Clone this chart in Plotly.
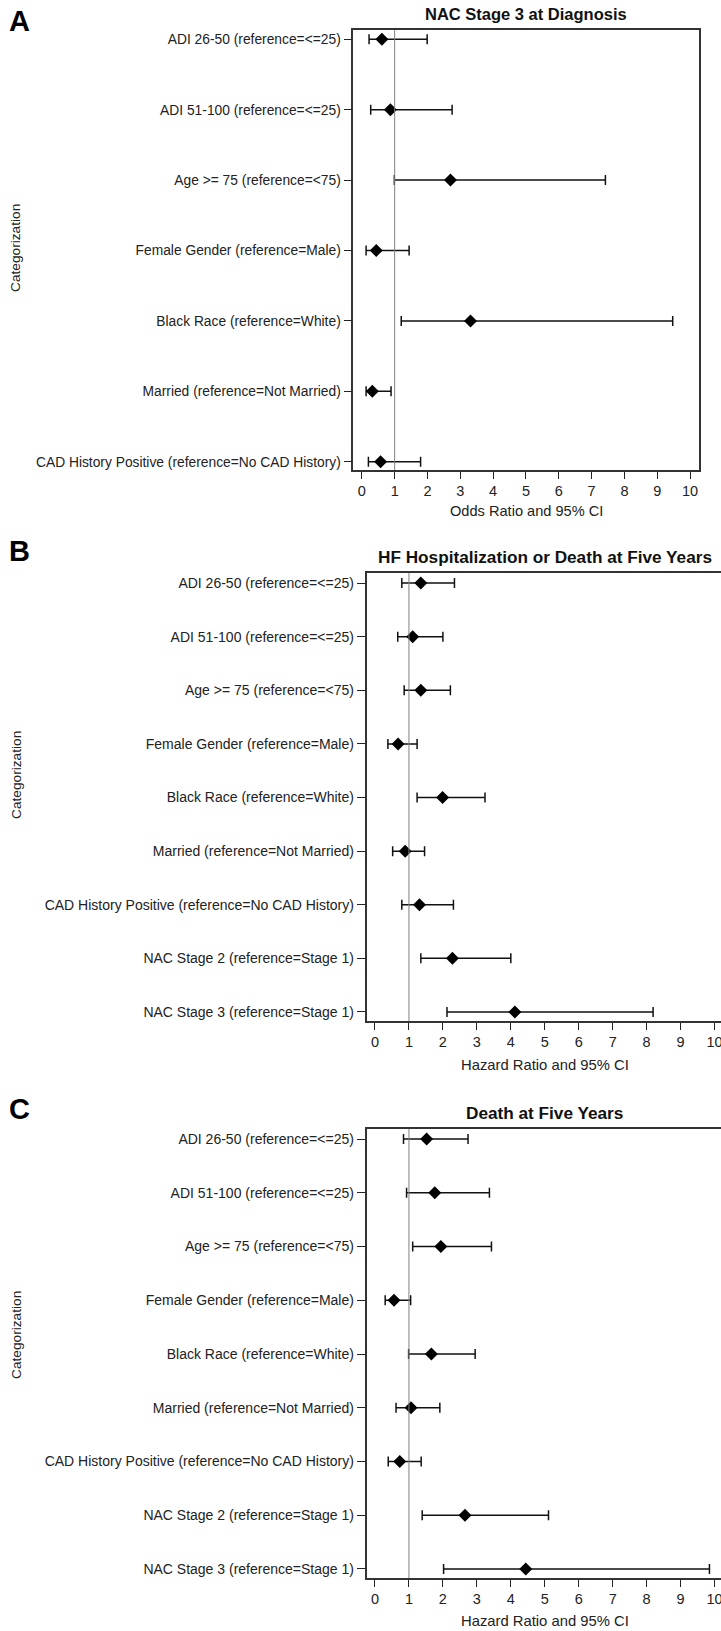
import plotly.graph_objects as go

W, H = 721, 1631

labels_a = [
    "ADI 26-50 (reference=&lt;=25)",
    "ADI 51-100 (reference=&lt;=25)",
    "Age &gt;= 75 (reference=&lt;75)",
    "Female Gender (reference=Male)",
    "Black Race (reference=White)",
    "Married (reference=Not Married)",
    "CAD History Positive (reference=No CAD History)",
]
labels_bc = labels_a + [
    "NAC Stage 2 (reference=Stage 1)",
    "NAC Stage 3 (reference=Stage 1)",
]

# Panel A: NAC Stage 3 at Diagnosis (odds ratios)
a_est = [0.61, 0.87, 2.70, 0.44, 3.31, 0.32, 0.57]
a_lo = [0.22, 0.27, 0.99, 0.13, 1.20, 0.13, 0.20]
a_hi = [1.99, 2.75, 7.42, 1.44, 9.47, 0.89, 1.79]

# Panel B: HF Hospitalization or Death at Five Years (hazard ratios)
b_est = [1.35, 1.11, 1.35, 0.68, 1.99, 0.89, 1.31, 2.28, 4.12]
b_lo = [0.79, 0.67, 0.86, 0.38, 1.24, 0.52, 0.79, 1.35, 2.12]
b_hi = [2.34, 2.00, 2.22, 1.24, 3.24, 1.46, 2.31, 4.00, 8.19]

# Panel C: Death at Five Years (hazard ratios)
c_est = [1.52, 1.76, 1.94, 0.56, 1.66, 1.06, 0.73, 2.65, 4.44]
c_lo = [0.84, 0.93, 1.11, 0.30, 0.99, 0.62, 0.39, 1.39, 2.02]
c_hi = [2.74, 3.37, 3.43, 1.05, 2.95, 1.91, 1.36, 5.11, 9.85]

x_ticks = list(range(0, 11))

FONT = "Liberation Sans, Arial, sans-serif"

def px_x(p):
    return p / W

def px_y(p):
    return 1 - p / H

panels = [
    dict(key="", est=a_est, lo=a_lo, hi=a_hi, labels=labels_a,
         title="NAC Stage 3 at Diagnosis", xlabel="Odds Ratio and 95% CI",
         box=(353.3, 699.3, 30, 470), xr=[-0.26, 10.28], pad=(0.132, 0.118),
         lab_size=13.8, tick_size=14.5, xl_size=14.6, title_size=16.5,
         title_y=14, xl_y=511, yl_y=248, letter="A", letter_y=21, mirror_y=True),
    dict(key="2", est=b_est, lo=b_lo, hi=b_hi, labels=labels_bc,
         title="HF Hospitalization or Death at Five Years", xlabel="Hazard Ratio and 95% CI",
         box=(366.5, 721, 573, 1021), xr=[-0.25, 10.19], pad=(0.187, 0.168),
         lab_size=14, tick_size=14.5, xl_size=14.8, title_size=17.2,
         title_y=557, xl_y=1065, yl_y=775, letter="B", letter_y=551, mirror_y=False),
    dict(key="3", est=c_est, lo=c_lo, hi=c_hi, labels=labels_bc,
         title="Death at Five Years", xlabel="Hazard Ratio and 95% CI",
         box=(366.5, 721, 1129, 1578), xr=[-0.25, 10.19], pad=(0.187, 0.168),
         lab_size=14, tick_size=14.5, xl_size=14.8, title_size=17.2,
         title_y=1113, xl_y=1621, yl_y=1335, letter="C", letter_y=1109, mirror_y=False),
]

fig = go.Figure()
annotations = []
shapes = []

for p in panels:
    k = p["key"]
    n = len(p["labels"])
    idx = list(range(n))
    err_plus = [h - e for h, e in zip(p["hi"], p["est"])]
    err_minus = [e - l for e, l in zip(p["est"], p["lo"])]
    fig.add_trace(go.Scatter(
        x=p["est"], y=idx, mode="markers",
        xaxis="x" + k, yaxis="y" + k,
        marker=dict(symbol="diamond", size=10, color="black"),
        error_x=dict(type="data", symmetric=False, array=err_plus, arrayminus=err_minus,
                     color="#111111", thickness=1.5, width=5),
        showlegend=False, hoverinfo="skip",
    ))
    x0, x1, y0, y1 = p["box"]
    xa = dict(
        domain=[px_x(x0), min(1.0, px_x(x1))], range=p["xr"],
        tickmode="array", tickvals=x_ticks, ticktext=[str(t) for t in x_ticks],
        ticks="outside", ticklen=7, tickwidth=1.2, tickcolor="#222",
        showline=True, linecolor="#333", linewidth=1.6, mirror=True,
        showgrid=False, zeroline=False, automargin=False,
        ticklabeloverflow="allow",
        tickfont=dict(family=FONT, size=p["tick_size"], color="#222"),
        anchor="y" + k,
    )
    ya = dict(
        domain=[px_y(y1), px_y(y0)],
        range=[n - 1 + p["pad"][1], -p["pad"][0]],
        tickmode="array", tickvals=idx, ticktext=p["labels"],
        ticks="outside", ticklen=8, tickwidth=1.2, tickcolor="#222",
        showline=True, linecolor="#333", linewidth=1.6, mirror=p["mirror_y"],
        showgrid=False, zeroline=False, automargin=False,
        tickfont=dict(family=FONT, size=p["lab_size"], color="#222"),
        anchor="x" + k,
    )
    fig.update_layout(**{"xaxis" + k: xa, "yaxis" + k: ya})
    shapes.append(dict(type="line", xref="x" + k, yref="y" + k + " domain",
                       x0=1, x1=1, y0=0, y1=1, line=dict(color="#808080", width=1)))
    cx = (x0 + x1) / 2
    if x1 >= 721:
        cx = (x0 + 722.5) / 2
    annotations.append(dict(text="<b>" + p["title"] + "</b>", xref="paper", yref="paper",
                            x=px_x(cx), y=px_y(p["title_y"]), xanchor="center", yanchor="middle",
                            showarrow=False, font=dict(family=FONT, size=p["title_size"], color="#111")))
    annotations.append(dict(text=p["xlabel"], xref="paper", yref="paper",
                            x=px_x(cx), y=px_y(p["xl_y"]), xanchor="center", yanchor="middle",
                            showarrow=False, font=dict(family=FONT, size=p["xl_size"], color="#222")))
    annotations.append(dict(text="Categorization", xref="paper", yref="paper",
                            x=px_x(16), y=px_y(p["yl_y"]), xanchor="center", yanchor="middle",
                            textangle=-90, showarrow=False,
                            font=dict(family=FONT, size=13.7, color="#222")))
    annotations.append(dict(text="<b>" + p["letter"] + "</b>", xref="paper", yref="paper",
                            x=px_x(7), y=px_y(p["letter_y"]), xanchor="left", yanchor="middle",
                            showarrow=False, font=dict(family=FONT, size=29, color="black")))

fig.update_layout(
    width=W, height=H,
    margin=dict(l=0, r=0, t=0, b=0),
    paper_bgcolor="white", plot_bgcolor="white",
    annotations=annotations, shapes=shapes,
)

fig.write_html("out.html", config={"displayModeBar": False},
               post_script="document.body.style.margin='0px';document.body.style.overflow='hidden';")
